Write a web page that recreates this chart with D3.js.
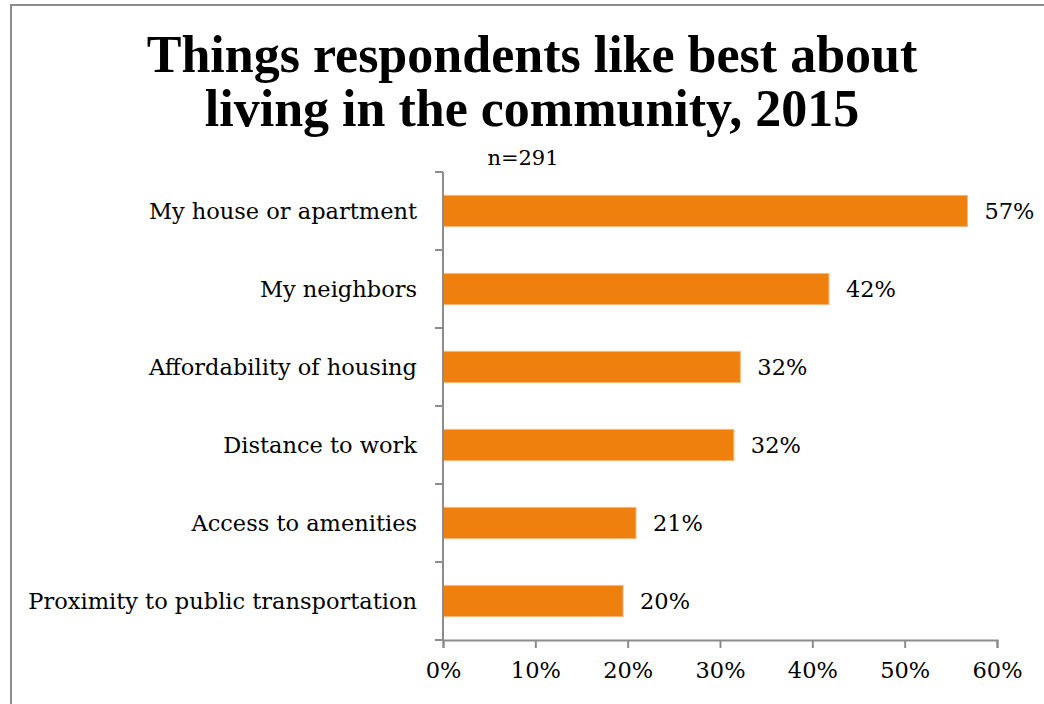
<!DOCTYPE html>
<html>
<head>
<meta charset="utf-8">
<script src="https://d3js.org/d3.v7.min.js"></script>
<style>
  html, body { margin: 0; padding: 0; background: #fff; }
  svg { display: block; }
  text { font-family: "DejaVu Serif", "Liberation Serif", serif; fill: #000; }
</style>
</head>
<body>
<div id="chart"></div>
<script>
// Survey results: share of respondents naming each item
const categories = [
  "My house or apartment",
  "My neighbors",
  "Affordability of housing",
  "Distance to work",
  "Access to amenities",
  "Proximity to public transportation"
];
const shares = [0.568, 0.418, 0.322, 0.315, 0.209, 0.195];
const xTicks = [0, 0.1, 0.2, 0.3, 0.4, 0.5, 0.6];
const titleLines = ["Things respondents like best about", "living in the community, 2015"];
const sampleNote = "n=291";

const W = 1044, H = 704;
const margin = { left: 443, right: 47, top: 172, bottom: 64 };
const labelFont = "22.5px";

const svg = d3.select("#chart").append("svg")
  .attr("width", W).attr("height", H);

// outer frame
svg.append("rect")
  .attr("x", 11).attr("y", 5)
  .attr("width", W + 20).attr("height", H + 20)
  .attr("fill", "none").attr("stroke", "#8c8c8c").attr("stroke-width", 2);

// title
svg.append("g").selectAll("text").data(titleLines).join("text")
  .attr("x", 532)
  .attr("y", (d, i) => 72 + i * 54)
  .attr("text-anchor", "middle")
  .style("font-family", '"Liberation Serif", serif')
  .style("font-weight", "bold")
  .style("font-size", "52px")
  .text(d => d);

svg.append("text")
  .attr("x", 523).attr("y", 165)
  .attr("text-anchor", "middle")
  .style("font-size", "21px")
  .text(sampleNote);

const x = d3.scaleLinear()
  .domain([0, 0.6])
  .range([margin.left, W - margin.right]);

const y = d3.scaleBand()
  .domain(categories)
  .range([margin.top, H - margin.bottom])
  .paddingInner(0.6)
  .paddingOuter(0.3);

const data = categories.map((c, i) => ({ cat: c, v: shares[i] }));

// bars
svg.append("g").selectAll("rect").data(data).join("rect")
  .attr("x", x(0))
  .attr("y", d => y(d.cat))
  .attr("width", d => x(d.v) - x(0))
  .attr("height", y.bandwidth())
  .attr("fill", "#ef800e")
  .attr("stroke", "#f7b77a")
  .attr("stroke-width", 1);

// value labels
const pct = d3.format(".0%");
svg.append("g").selectAll("text").data(data).join("text")
  .attr("x", d => x(d.v) + 17)
  .attr("y", d => y(d.cat) + y.bandwidth() / 2)
  .attr("dy", "0.35em")
  .style("font-size", labelFont)
  .text(d => pct(d.v));

// x axis
const xAxis = svg.append("g")
  .attr("transform", `translate(0,${H - margin.bottom})`)
  .call(d3.axisBottom(x).tickValues(xTicks).tickFormat(d3.format(".0%")).tickSize(8).tickPadding(14));
xAxis.select(".domain").attr("stroke", "#8c8c8c").attr("stroke-width", 2);
xAxis.selectAll(".tick line").attr("stroke", "#8c8c8c").attr("stroke-width", 2);
xAxis.selectAll(".tick text")
  .style("font-family", '"DejaVu Serif", serif')
  .style("font-size", labelFont).attr("fill", "#000");

// y axis: category boundaries carry tick marks
const yAxisG = svg.append("g");
yAxisG.append("line")
  .attr("x1", x(0)).attr("x2", x(0))
  .attr("y1", margin.top).attr("y2", H - margin.bottom)
  .attr("stroke", "#8c8c8c").attr("stroke-width", 2);
const boundaries = d3.range(categories.length + 1).map(i => margin.top + i * (H - margin.top - margin.bottom) / categories.length);
yAxisG.selectAll("line.b").data(boundaries).join("line")
  .attr("class", "b")
  .attr("x1", x(0) - 8).attr("x2", x(0))
  .attr("y1", d => d).attr("y2", d => d)
  .attr("stroke", "#8c8c8c").attr("stroke-width", 2);

// category labels
svg.append("g").selectAll("text").data(categories).join("text")
  .attr("x", x(0) - 26)
  .attr("y", d => y(d) + y.bandwidth() / 2)
  .attr("dy", "0.35em")
  .attr("text-anchor", "end")
  .style("font-size", labelFont)
  .text(d => d);
</script>
</body>
</html>
